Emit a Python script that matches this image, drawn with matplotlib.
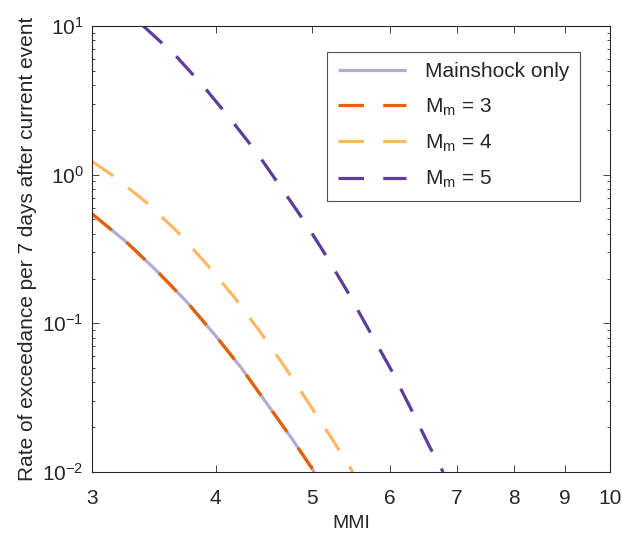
import matplotlib
matplotlib.use("Agg")
import matplotlib.pyplot as plt
from matplotlib.ticker import FixedLocator, FixedFormatter, LogLocator, NullFormatter

plt.rcParams['font.family'] = ['Liberation Sans', 'DejaVu Sans']
plt.rcParams['mathtext.fontset'] = 'custom'
plt.rcParams['mathtext.rm'] = 'Liberation Sans'
plt.rcParams['mathtext.it'] = 'Liberation Sans'

# Data
mmi_main = [3.0, 3.247, 3.488, 3.738, 3.992, 4.248, 4.502, 4.772, 5.03]
rate_main = [0.545, 0.354, 0.225, 0.1398, 0.0835, 0.0498, 0.0290, 0.01685, 0.0100]

mmi_m3 = [3.0, 3.247, 3.488, 3.738, 3.992, 4.248, 4.502, 4.772, 5.03]
rate_m3 = [0.545, 0.354, 0.225, 0.1398, 0.0835, 0.0498, 0.0290, 0.01685, 0.0100]

mmi_m4 = [3.0, 3.152, 3.407, 3.658, 3.909, 4.166, 4.426, 4.687, 4.941, 5.224, 5.50]
rate_m4 = [1.23, 0.980, 0.648, 0.4135, 0.2534, 0.1527, 0.0892, 0.0519, 0.0305, 0.01728, 0.0100]

mmi_m5 = [3.380, 3.639, 3.885, 4.141, 4.405, 4.661, 4.930, 5.195, 5.465, 5.734,
          6.020, 6.292, 6.581, 6.785]
rate_m5 = [10.0, 6.38, 3.95, 2.357, 1.392, 0.810, 0.471, 0.2697, 0.1527, 0.0857,
           0.0480, 0.0268, 0.01462, 0.0100]

labels = ['Mainshock only', r'M$_\mathrm{m}$ = 3', r'M$_\mathrm{m}$ = 4', r'M$_\mathrm{m}$ = 5']
colors = ['#b2abd2', '#e66101', '#fdb863', '#5e3c99']

xticks = [3, 4, 5, 6, 7, 8, 9, 10]
xticklabels = ['3', '4', '5', '6', '7', '8', '9', '10']

fig = plt.figure(figsize=(6.22, 5.35), dpi=100)
ax = fig.add_axes([92/622, 1-472/535, (610-92)/622, (472-26)/535])

lw = 2.3
dash = (8.0, 6.0)
ax.plot(mmi_main, rate_main, color=colors[0], lw=lw, solid_capstyle='butt', label=labels[0])
ax.plot(mmi_m3, rate_m3, color=colors[1], lw=lw, dashes=dash, label=labels[1])
ax.plot(mmi_m4, rate_m4, color=colors[2], lw=lw, dashes=dash, label=labels[2])
ax.plot(mmi_m5, rate_m5, color=colors[3], lw=lw, dashes=dash, label=labels[3])

ax.set_xscale('log')
ax.set_yscale('log')
ax.set_xlim(3, 10)
ax.set_ylim(1e-2, 1e1)
ax.xaxis.set_major_locator(FixedLocator(xticks))
ax.xaxis.set_major_formatter(FixedFormatter(xticklabels))
ax.xaxis.set_minor_locator(FixedLocator([]))
ax.xaxis.set_minor_formatter(NullFormatter())
ax.yaxis.set_major_locator(LogLocator(base=10, numticks=10))
ax.yaxis.set_minor_locator(LogLocator(base=10, subs=range(2, 10), numticks=10))
ax.yaxis.set_minor_formatter(NullFormatter())

for s in ax.spines.values():
    s.set_color('#262626')
    s.set_linewidth(0.8)
ax.tick_params(which='both', direction='in', top=True, right=True, colors='#262626',
               labelcolor='#262626', labelsize=15, width=0.6)
ax.tick_params(which='major', length=5)
ax.tick_params(which='minor', length=2.5)
ax.tick_params(axis='x', pad=12)
ax.tick_params(axis='y', pad=6)

ax.set_xlabel('MMI', fontsize=14, color='#262626', labelpad=5)
ax.set_ylabel('Rate of exceedance per 7 days after current event', fontsize=15,
              color='#262626', labelpad=4)

leg = ax.legend(loc='upper right', bbox_to_anchor=((580-92)/518, (472-52)/446),
                fontsize=15, frameon=True, fancybox=False, borderaxespad=0,
                handlelength=3.3, handletextpad=0.9, labelspacing=0.72,
                borderpad=0.5)
leg.get_frame().set_edgecolor('#262626')
leg.get_frame().set_linewidth(0.8)
for t in leg.get_texts():
    t.set_color('#262626')

fig.savefig('out.png', dpi=100)
